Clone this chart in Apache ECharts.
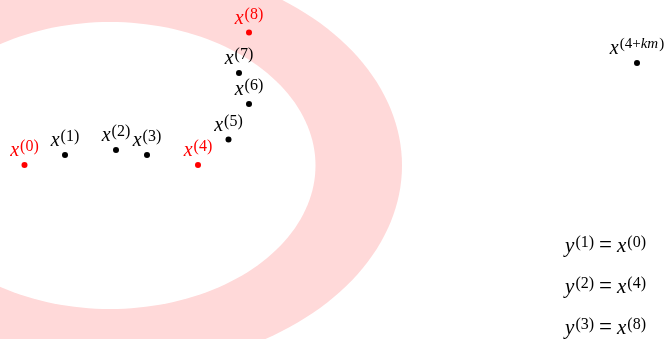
<!DOCTYPE html>
<html><head><meta charset="utf-8">
<script src="https://cdn.jsdelivr.net/npm/echarts@6/dist/echarts.min.js"></script>
<style>html,body{margin:0;padding:0;background:#fff}#c{width:670px;height:339px}</style>
</head><body><div id="c"></div>
<script>
// Iterates x^(k) of the sequence (plot units: x to the right, y downward)
const iterNames = ['0', '1', '2', '3', '4', '5', '6', '7', '8'];
const iterX = [24.5, 65, 116, 147, 198, 228.5, 249, 239, 249];
const iterY = [165, 155, 150, 155, 165, 139.5, 104, 73, 32.5];
// Iterates kept as y^(j) (every m-th one)
const keptIdx = [0, 4, 8];
// The far-away iterate x^(4+km)
const farName = ['4+', 'km'];
const farX = [637];
const farY = [63];
// Level-set band: two concentric, similar ellipses
const bandCenter = [110, 165.5];
const innerRadii = [205.5, 143.5];
const outerRadii = [292, 205];
// y^(j) = x^(i) pairs
const eqPairs = [['1', '0'], ['2', '4'], ['3', '8']];

const RED = '#ff0000', INK = '#000000', BAND = '#ffd9d9';
const SERIF = '"Liberation Serif", serif';

function richFor(color, base, sup) {
  return {
    b: { fontFamily: SERIF, fontStyle: 'italic', fontSize: base, color: color, verticalAlign: 'bottom', lineHeight: 22 },
    s: { fontFamily: SERIF, fontSize: sup, color: color, verticalAlign: 'top', lineHeight: 14, padding: [0, 0, 0, 1] },
    si: { fontFamily: SERIF, fontStyle: 'italic', fontSize: sup, color: color, verticalAlign: 'top', lineHeight: 14 },
    e: { fontFamily: SERIF, fontSize: 23, color: color, verticalAlign: 'bottom', lineHeight: 22, padding: [0, 5, 0, 5] }
  };
}

const redPts = [], blackPts = [];
iterNames.forEach((n, i) => {
  const p = { value: [iterX[i], iterY[i]], name: n };
  (keptIdx.includes(i) ? redPts : blackPts).push(p);
});
const farPts = farX.map((x, i) => ({ value: [x, farY[i]], name: 'far' }));

function ellipsePoints(api, c, r) {
  const pts = [];
  for (let k = 0; k < 180; k++) {
    const t = (k / 180) * Math.PI * 2;
    pts.push(api.coord([c[0] + r[0] * Math.cos(t), c[1] + r[1] * Math.sin(t)]));
  }
  return pts;
}

const labelBase = { show: true, position: 'top', distance: 1 };

const chart = echarts.init(document.getElementById('c'), null, { renderer: 'canvas' });
chart.setOption({
  animation: false,
  backgroundColor: '#ffffff',
  grid: { left: 0, right: 0, top: 0, bottom: 0 },
  xAxis: { type: 'value', min: 0, max: 670, show: false },
  yAxis: { type: 'value', min: 0, max: 339, inverse: true, show: false },
  series: [
    {
      type: 'custom', silent: true, clip: true, z: 1,
      data: [[bandCenter[0], bandCenter[1]]],
      renderItem: function (params, api) {
        return {
          type: 'group',
          children: [
            { type: 'polygon', shape: { points: ellipsePoints(api, bandCenter, outerRadii) }, style: { fill: BAND } },
            { type: 'polygon', shape: { points: ellipsePoints(api, bandCenter, innerRadii) }, style: { fill: '#ffffff' } }
          ]
        };
      }
    },
    {
      type: 'scatter', z: 3, symbolSize: 6, itemStyle: { color: INK, opacity: 1 }, data: blackPts,
      label: Object.assign({}, labelBase, { rich: richFor(INK, 20, 16), formatter: p => '{b|x}{s|(' + p.name + ')}' })
    },
    {
      type: 'scatter', z: 3, symbolSize: 6, itemStyle: { color: RED, opacity: 1 }, data: redPts,
      label: Object.assign({}, labelBase, { rich: richFor(RED, 20, 16), formatter: p => '{b|x}{s|(' + p.name + ')}' })
    },
    {
      type: 'scatter', z: 3, symbolSize: 6, itemStyle: { color: INK, opacity: 1 }, data: farPts,
      label: Object.assign({}, labelBase, { rich: richFor(INK, 20, 15), formatter: () => '{b|x}{s|(' + farName[0] + '}{si|' + farName[1] + '}{s|)}' })
    }
  ],
  graphic: eqPairs.map((pr, j) => ({
    type: 'text', right: 24, top: 234 + j * 41, silent: true,
    style: {
      text: '{b|y}{s|(' + pr[0] + ')}{e|=}{b|x}{s|(' + pr[1] + ')}',
      rich: richFor(INK, 21, 16)
    }
  }))
});
</script>
</body></html>
